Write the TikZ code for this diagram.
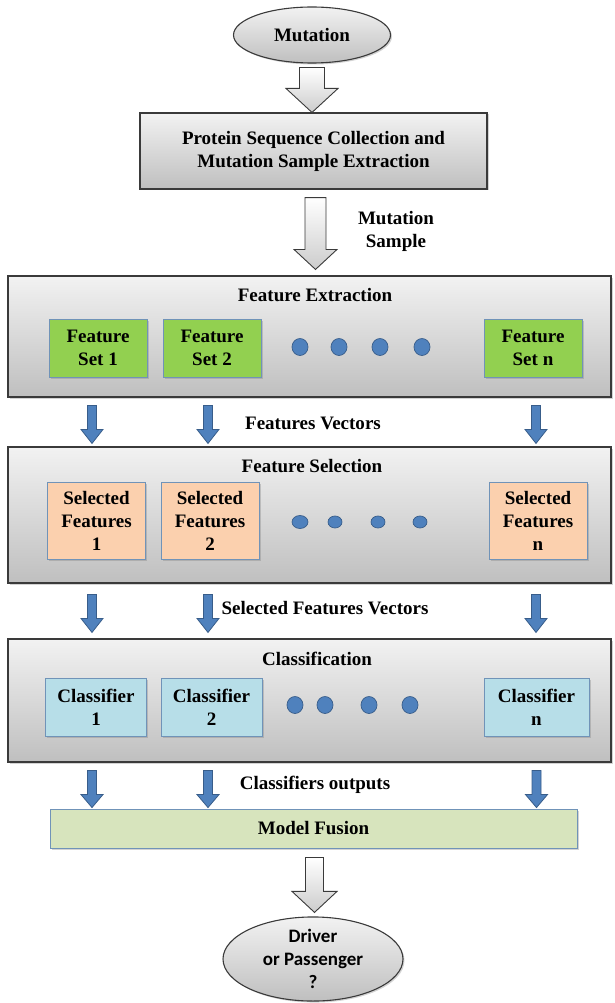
\documentclass[tikz,border=0pt]{standalone}
\usepackage{fontspec}
\setmainfont{Liberation Serif}
\newfontfamily\carl{Carlito}
\usetikzlibrary{shapes.geometric,shadows,calc}
\definecolor{bdark}{HTML}{3A3A3A}
\definecolor{gtop}{HTML}{F2F2F2}
\definecolor{gbot}{HTML}{BFBFBF}
\definecolor{fgreen}{HTML}{92D050}
\definecolor{fpeach}{HTML}{FBD0AE}
\definecolor{fcyan}{HTML}{B7DEE8}
\definecolor{fmodel}{HTML}{D7E4BD}
\definecolor{iborder}{HTML}{7093B8}
\definecolor{ablue}{HTML}{4F81BD}
\definecolor{ablueb}{HTML}{385D8A}
% block arrow: style, start, tip, shaft half width, head half width, head length
\newcommand\blockarrow[6]{%
  \path[#1] let \p1=#2, \p2=#3 in
    (\x1-#4,\y1) -- (\x1+#4,\y1) -- (\x1+#4,\y2+#6) -- (\x1+#5,\y2+#6)
    -- (\x1,\y2) -- (\x1-#5,\y2+#6) -- (\x1-#4,\y2+#6) -- cycle;}
\begin{document}
\begin{tikzpicture}[x=1pt,y=-1pt,
  font=\bfseries\fontsize{19}{23}\selectfont,
  shad/.style={drop shadow={shadow xshift=1.5pt,shadow yshift=-1.5pt,opacity=0.35}},
  grayfill/.style={draw=bdark,line width=1.1pt,top color=gtop,bottom color=gbot},
  oval/.style={grayfill,ellipse,inner sep=0pt,align=center,shad},
  bigbox/.style={grayfill,rectangle,minimum width=603pt,inner sep=0pt,shad},
  inbox/.style={rectangle,draw=iborder,line width=0.9pt,inner sep=0pt,align=center,minimum height=#1,shad},
  greenbox/.style={inbox=58pt,fill=fgreen,minimum width=98pt},
  peachbox/.style={inbox=77pt,fill=fpeach,minimum width=98pt},
  cyanbox/.style={inbox=58pt,fill=fcyan,minimum width=101pt},
  dotbig/.style={ellipse,fill=ablue,draw=ablueb,line width=0.7pt,minimum width=16pt,minimum height=17pt,inner sep=0pt},
  dotsmall/.style={ellipse,fill=ablue,draw=ablueb,line width=0.7pt,minimum width=14pt,minimum height=12pt,inner sep=0pt},
  garrow/.style={draw=bdark,line width=0.9pt,top color=white,bottom color=gbot!80},
  barrow/.style={draw=ablueb,line width=0.8pt,fill=ablue},
  lbl/.style={inner sep=0pt,align=center}
]
\useasboundingbox (0,0) rectangle (615,1003);

% top
\node[oval,minimum width=157pt,minimum height=56pt] (mut) at (312,35) {Mutation};
\node[grayfill,rectangle,shad,minimum width=347pt,minimum height=76pt,inner sep=0pt,align=center] (psc) at (313.5,151)
  {Protein Sequence Collection and\\Mutation Sample Extraction};
\node[lbl] (ms) at (396,231) {Mutation\\Sample};

% feature extraction
\node[bigbox,minimum height=121pt] (fe) at (309.5,336.5) {};
\node[lbl] (fet) at (315,295) {Feature Extraction};
\node[greenbox] (fs1) at (98,348) {Feature\\Set 1};
\node[greenbox] (fs2) at (212,348) {Feature\\Set 2};
\node[greenbox] (fsn) at (533,348) {Feature\\Set n};
\node[dotbig] (d11) at (300,347) {};
\node[dotbig] (d12) at (339,347) {};
\node[dotbig] (d13) at (380,347) {};
\node[dotbig] (d14) at (422,347) {};
\node[lbl] (fv) at (313,423) {Features Vectors};

% feature selection
\node[bigbox,minimum height=136pt] (fsel) at (309.5,515) {};
\node[lbl] (fselt) at (312,466) {Feature Selection};
\node[peachbox] (sf1) at (96.5,520.5) {Selected\\Features\\1};
\node[peachbox] (sf2) at (210,520.5) {Selected\\Features\\2};
\node[peachbox] (sfn) at (538,520.5) {Selected\\Features\\n};
\node[dotsmall,minimum width=16pt,minimum height=13pt] (d21) at (300,522) {};
\node[dotsmall] (d22) at (335,522) {};
\node[dotsmall] (d23) at (378,522) {};
\node[dotsmall] (d24) at (420,522) {};
\node[lbl] (sfv) at (325,608) {Selected Features Vectors};

% classification
\node[bigbox,minimum height=123pt] (cls) at (309.5,700.5) {};
\node[lbl] (clst) at (317,659) {Classification};
\node[cyanbox] (c1) at (96,707) {Classifier\\1};
\node[cyanbox] (c2) at (211.5,707) {Classifier\\2};
\node[cyanbox,minimum width=105pt] (cn) at (536.5,707) {Classifier\\n};
\node[dotbig] (d31) at (295,705) {};
\node[dotbig] (d32) at (325,705) {};
\node[dotbig] (d33) at (369,705) {};
\node[dotbig] (d34) at (410,705) {};
\node[lbl] (co) at (315,785) {Classifiers outputs};

% fusion and result
\node[rectangle,draw=iborder,line width=0.9pt,fill=fmodel,minimum width=527pt,minimum height=39pt,inner sep=0pt,shad] (mf) at (313.5,828.5) {Model Fusion};
\node[oval,minimum width=180pt,minimum height=84pt,font=\carl\bfseries\fontsize{19}{23}\selectfont] (dp) at (313,959) {Driver\\or Passenger\\?};

% gray block arrows
\blockarrow{garrow}{($(mut.south)+(0,4)$)}{(psc.north)}{12.5pt}{26pt}{24pt}
\blockarrow{garrow}{($(psc.south)+(2,8)$)}{($(fe.north)+(0,-6)$)}{10.5pt}{21.5pt}{20pt}
\blockarrow{garrow}{($(mf.south)+(1,9)$)}{($(dp.north)+(0,-4)$)}{9pt}{22.5pt}{21pt}

% blue arrows row 1
\blockarrow{barrow}{($(fe.south -| fs1.south)+(-6,8)$)}{($(fsel.north)+(0,-3)$)}{4.5pt}{11pt}{14pt}
\blockarrow{barrow}{($(fe.south -| fs2.south)+(-4,8)$)}{($(fsel.north)+(0,-3)$)}{4.5pt}{11pt}{14pt}
\blockarrow{barrow}{($(fe.south -| fsn.south)+(3,8)$)}{($(fsel.north)+(0,-3)$)}{4.5pt}{11pt}{14pt}
% row 2
\blockarrow{barrow}{($(fsel.south -| sf1.south)+(-4.5,11)$)}{($(cls.north)+(0,-6)$)}{4.5pt}{11pt}{14pt}
\blockarrow{barrow}{($(fsel.south -| sf2.south)+(-2,11)$)}{($(cls.north)+(0,-6)$)}{4.5pt}{11pt}{14pt}
\blockarrow{barrow}{($(fsel.south -| sfn.south)+(-2,11)$)}{($(cls.north)+(0,-6)$)}{4.5pt}{11pt}{14pt}
% row 3
\blockarrow{barrow}{($(cls.south -| c1.south)+(-4,8)$)}{($(mf.north)+(0,-1)$)}{4.5pt}{11pt}{13pt}
\blockarrow{barrow}{($(cls.south -| c2.south)+(-3.5,8)$)}{($(mf.north)+(0,-1)$)}{4.5pt}{11pt}{13pt}
\blockarrow{barrow}{($(cls.south -| cn.south)+(0,8)$)}{($(mf.north)+(0,-1)$)}{4.5pt}{11pt}{13pt}
\end{tikzpicture}
\end{document}
